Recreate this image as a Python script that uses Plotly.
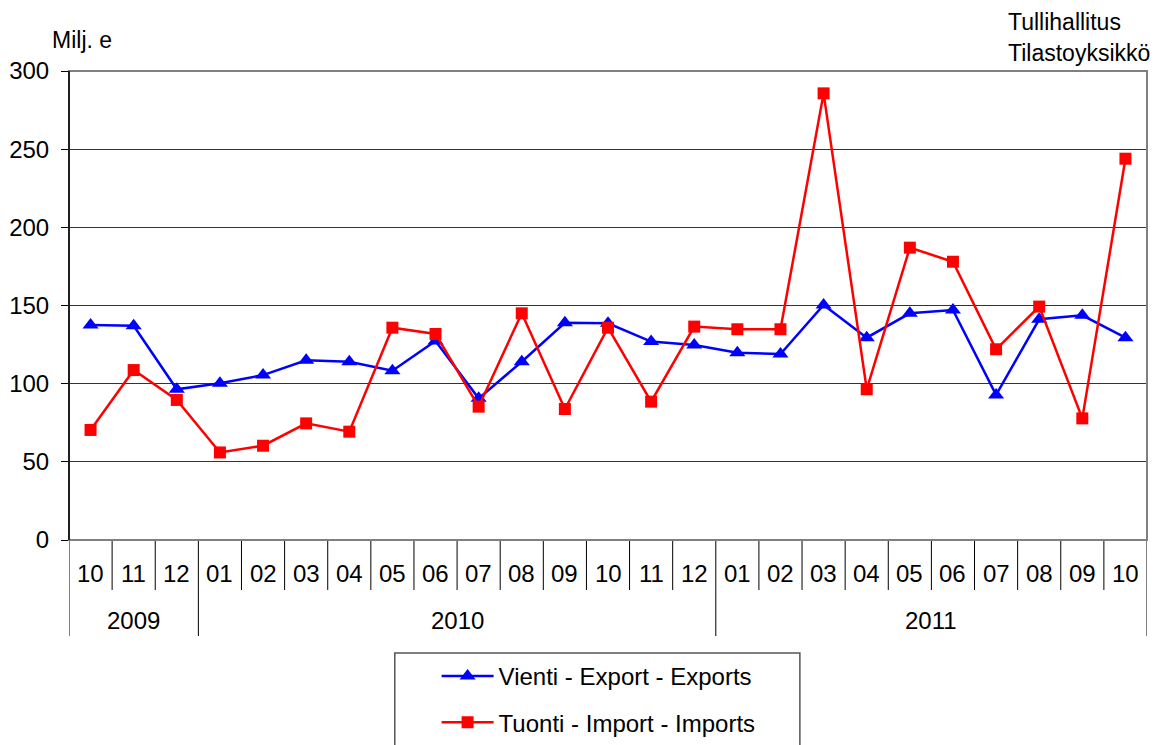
import plotly.graph_objects as go

months = ["10", "11", "12", "01", "02", "03", "04", "05", "06", "07", "08", "09",
          "10", "11", "12", "01", "02", "03", "04", "05", "06", "07", "08", "09", "10"]
years = ["2009"] * 3 + ["2010"] * 12 + ["2011"] * 10
categories = [f"{y}-{m}" for y, m in zip(years, months)]

exports = [137.5, 137.0, 96.4, 100.2, 105.5, 115.0, 114.0, 108.3, 127.3, 90.6, 114.0, 139.0,
           138.6, 126.9, 124.7, 119.8, 119.0, 150.3, 129.4, 145.0, 147.1, 92.8, 141.2, 143.7, 129.4]
imports = [70.4, 108.7, 89.6, 56.0, 60.3, 74.6, 69.3, 135.8, 131.8, 85.3, 145.0, 83.8,
           135.8, 88.5, 136.5, 134.8, 134.8, 285.7, 96.4, 187.0, 178.0, 122.0, 149.3, 77.8, 243.9]

FONT = "Liberation Sans, Arial, sans-serif"
FS = 24

fig = go.Figure()

fig.add_trace(
    go.Scatter(
        x=categories,
        y=exports,
        name="Vienti - Export - Exports",
        mode="lines+markers",
        line=dict(color="#0000FF", width=2.5),
        marker=dict(symbol="triangle-up", size=14, color="#0000FF"),
        legendgroup="exp",
    )
)
fig.add_trace(
    go.Scatter(
        x=categories,
        y=imports,
        name="Tuonti - Import - Imports",
        mode="lines+markers",
        line=dict(color="#FF0000", width=2.5),
        marker=dict(symbol="square", size=12, color="#FF0000"),
        legendgroup="imp",
    )
)

# category dividers below the axis (months short, years long)
shapes = []
year_edges = {0, 3, 15, 25}
for i in range(len(categories) + 1):
    bottom = -0.2047 if i in year_edges else -0.1066
    shapes.append(dict(type="line", xref="x", yref="paper", x0=i - 0.5, x1=i - 0.5,
                       y0=0, y1=bottom, line=dict(color="#000000", width=1)))

# plot frame
shapes.append(dict(type="rect", xref="paper", yref="paper", x0=0, x1=1, y0=0, y1=1,
                   line=dict(color="#808080", width=2), layer="above"))
shapes.append(dict(type="line", xref="paper", yref="paper", x0=0, x1=0, y0=0, y1=1,
                   line=dict(color="#000000", width=1.5), layer="above"))
# legend box
shapes.append(dict(type="rect", xref="paper", yref="paper", x0=0.3022, x1=0.678,
                   y0=-0.2409, y1=-0.47, line=dict(color="#555555", width=1.5)))

annotations = []
for i, m in enumerate(months):
    annotations.append(dict(x=i, y=-0.0704, xref="x", yref="paper", text=m,
                            showarrow=False, font=dict(size=FS, color="black"),
                            xanchor="center", yanchor="middle"))

for label in ["2009", "2010", "2011"]:
    idx = [i for i, y in enumerate(years) if y == label]
    center = (idx[0] + idx[-1]) / 2
    annotations.append(dict(x=center, y=-0.1727, xref="x", yref="paper", text=label,
                            showarrow=False, font=dict(size=FS, color="black"),
                            xanchor="center", yanchor="middle"))

annotations.append(dict(x=-0.0179, y=1.066, xref="paper", yref="paper", text="Milj. e",
                        showarrow=False, font=dict(size=23, color="black"),
                        xanchor="left", yanchor="middle"))
annotations.append(dict(x=0.8695, y=1.1045, xref="paper", yref="paper", text="Tullihallitus",
                        showarrow=False, font=dict(size=23, color="black"),
                        xanchor="left", yanchor="middle"))
annotations.append(dict(x=0.8695, y=1.0385, xref="paper", yref="paper", text="Tilastoyksikkö",
                        showarrow=False, font=dict(size=23, color="black"),
                        xanchor="left", yanchor="middle"))

fig.update_xaxes(
    type="category",
    range=[-0.5, len(categories) - 0.5],
    showticklabels=False,
    showgrid=False,
    ticks="",
    showline=False,
    zeroline=False,
)
fig.update_yaxes(
    range=[0, 300],
    dtick=50,
    ticks="outside",
    ticklen=7,
    tickcolor="#000000",
    tickfont=dict(size=FS, color="black"),
    ticklabelstandoff=7,
    showgrid=True,
    gridcolor="#333333",
    gridwidth=1,
    zeroline=False,
    showline=False,
    automargin=False,
)
# page body has an 8px margin, so the figure is sized to fill the rest
fig.update_layout(
    width=1153,
    height=737,
    margin=dict(l=61, r=14, t=63, b=205, autoexpand=False),
    paper_bgcolor="white",
    plot_bgcolor="white",
    font=dict(family=FONT, size=FS, color="black"),
    shapes=shapes,
    annotations=annotations,
    showlegend=True,
    legend=dict(
        x=0.341, y=-0.2431, xanchor="left", yanchor="top",
        borderwidth=0,
        font=dict(size=FS, color="black"),
        tracegroupgap=12,
        itemwidth=52,
        bgcolor="rgba(0,0,0,0)",
    ),
)

fig.write_html("out.html")
